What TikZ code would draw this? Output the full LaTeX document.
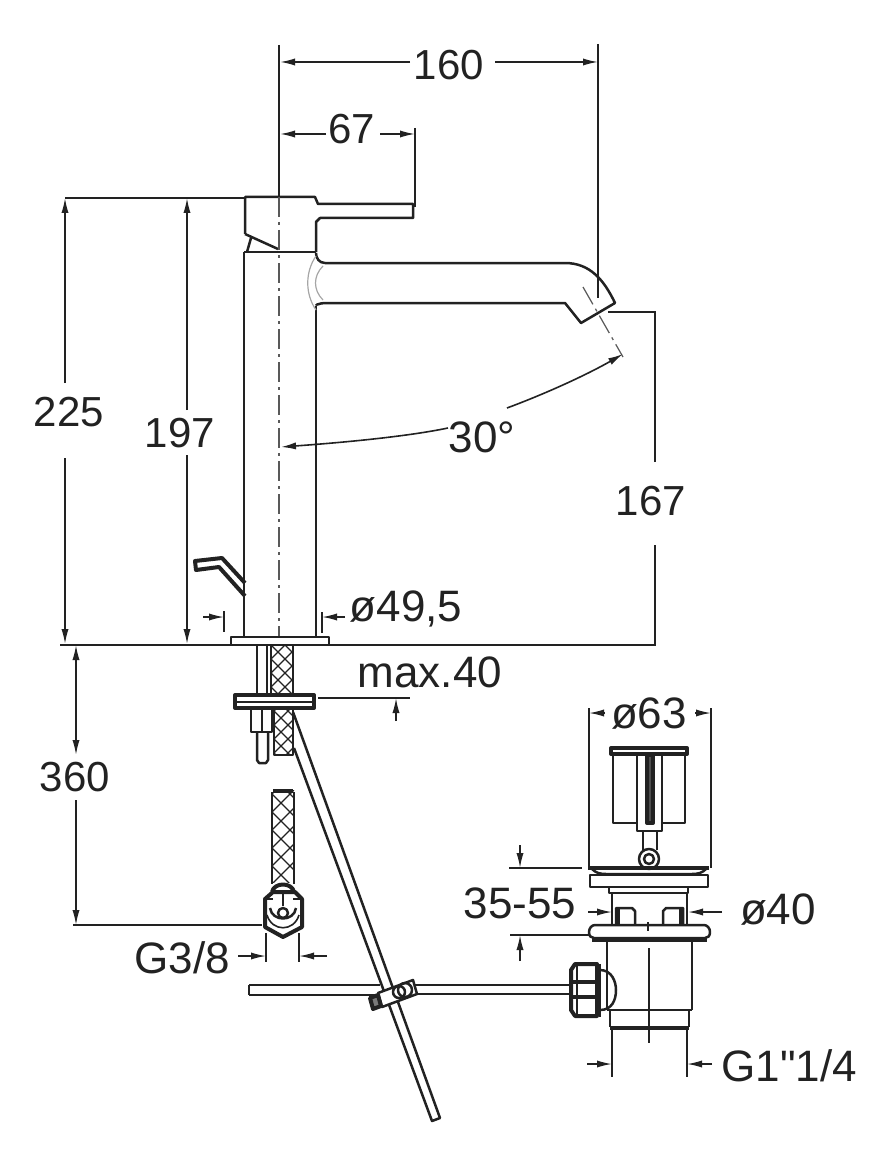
\documentclass[tikz,border=0pt]{standalone}
\usepackage{fontspec}
\setmainfont{Liberation Sans}
\newfontfamily\straightfont{Liberation Sans}
\usetikzlibrary{arrows.meta}
\definecolor{inkc}{HTML}{222222}
\tikzset{
  outline/.style={draw=inkc,line width=1.25pt,line join=round},
  heavy/.style={draw=inkc,line width=2pt,line join=round},
  thinline/.style={draw=inkc,line width=0.8pt},
  dimline/.style={draw=inkc,line width=0.8pt,-{Latex[length=7.5pt,width=3.6pt]}},
  dimboth/.style={draw=inkc,line width=0.8pt,{Latex[length=7.5pt,width=3.6pt]}-{Latex[length=7.5pt,width=3.6pt]}},
  centerline/.style={draw=inkc!75,line width=0.6pt,dash pattern=on 10pt off 2.5pt on 1.5pt off 2.5pt},
  faint/.style={draw=black!35,line width=0.6pt},
  dimtext/.style={font=\fontsize{21}{21}\selectfont,text=inkc,inner sep=0pt},
  widetext/.style={font=\fontsize{22}{22}\selectfont,text=inkc,inner sep=0pt},
  weave/.style={draw=inkc,line width=0.55pt}
}
\begin{document}
\begin{tikzpicture}[x=0.5pt,y=-0.5pt]
\useasboundingbox (0,0) rectangle (891,1166);
% dimensions at the top
\draw[thinline] (279,45) -- (279,197);
\draw[thinline] (598,44) -- (598,298);
\draw[dimline] (410,62) -- (280,62);
\draw[dimline] (495,62) -- (598,62);
\node[dimtext] (top160) at (449,65) {160};
\draw[thinline] (415,128) -- (415,207);
\draw[dimline] (326,134) -- (280,134);
\draw[dimline] (380,134) -- (415,134);
\node[dimtext] (top67) at (352,129) {67};
% handle
\draw[outline] (245,234) -- (245,197) -- (315,197) -- (318,204) -- (413,204) -- (413,218)
  -- (320,218) -- (316,222) -- (316,252);
\draw[outline] (245,234) -- (278,249);
\draw[outline] (251,238) -- (247,252);
\draw[outline] (244,252) -- (316,252);
% body and spout
\draw[outline] (244,252) -- (244,637);
\draw[outline] (316,304) .. controls (316,306) and (319,303) .. (325,303) -- (565,303) -- (581,323)
  -- (615,303) .. controls (604,280) and (590,263) .. (565,263) -- (325,263)
  .. controls (319,263) and (316,258) .. (316,253);
\draw[outline] (316,306) -- (316,637);
\draw[faint] (316,256) .. controls (305,272) and (305,294) .. (316,310);
\draw[faint] (323,266) .. controls (313,276) and (313,290) .. (323,300);
\draw[centerline] (279,197) -- (279,640);
\draw[centerline] (583,287) -- (623,357);
% 30 degrees
\draw[dimline] (448,428) .. controls (410,436) and (350,442) .. (281,447);
\draw[dimline] (507,408) .. controls (550,392) and (590,373) .. (623,354);
\node[widetext] (ang30) at (482,437) {30°};
% levels
\draw[thinline] (65,198) -- (245,198);
\draw[thinline] (60,645) -- (232,645);
\draw[thinline] (328,645) -- (655,645) -- (655,545);
\draw[thinline] (655,462) -- (655,312) -- (608,312);
\node[dimtext] (h167) at (651,501) {167};
\draw[dimline] (65,383) -- (65,198);
\draw[dimline] (65,458) -- (65,644);
\node[dimtext] (h225) at (69,412) {225};
\draw[dimline] (187,410) -- (187,198);
\draw[dimline] (187,455) -- (187,644);
\node[dimtext] (h197) at (180,433) {197};
% lever
\draw[heavy] (245,596) -- (219,567) -- (196,570) -- (195,561) -- (222,558) -- (245,583);
% body diameter
\draw[thinline] (224,611) -- (224,632);
\draw[thinline] (322,612) -- (322,633);
\draw[dimline] (203,617) -- (224,617);
\draw[dimline] (345,617) -- (322,617);
\node[widetext] (d495) at (406,609) {ø49,5};
% base with pipes
\draw[outline,fill=white] (231,637) rectangle (329,645);
\draw[outline] (257,645) -- (257,695);
\draw[outline] (267,645) -- (267,695);
\draw[outline] (271,645) -- (271,695);
\draw[outline] (293,645) -- (293,695);
\begin{scope}
\clip (271,645) rectangle (293,695);
\foreach \k in {0,...,5} {
  \draw[weave] (271,631+\k*14) -- (293,653+\k*14);
  \draw[weave] (271,645+\k*14) -- (293,623+\k*14);
}
\end{scope}
% nut under the deck
\draw[heavy,fill=white] (235,695) rectangle (314,708);
\draw[outline] (235,702) -- (314,702);
\draw[thinline] (318,698) -- (410,698);
\draw[dimline] (396,721) -- (396,698);
\node[widetext] (max40) at (430,672) {max.40};
% stud
\draw[outline] (251,709) -- (251,732) -- (272,732) -- (272,709);
\draw[outline] (257,732) -- (257,760) -- (259,763) -- (266,763) -- (268,760) -- (268,732);
\draw[outline] (262,709) -- (262,732);
% hose, upper part
\draw[outline] (274,709) -- (274,755) -- (293,755) -- (293,709);
\begin{scope}
\clip (274,709) rectangle (293,755);
\foreach \k in {0,...,4} {
  \draw[weave] (274,697+\k*14) -- (293,716+\k*14);
  \draw[weave] (274,711+\k*14) -- (293,692+\k*14);
}
\end{scope}
% long rod
\draw[outline] (294,748) -- (432,1121) -- (440,1118) -- (293,712);
% hose, lower part
\draw[outline] (272,792) -- (272,884);
\draw[outline] (294,792) -- (294,884);
\draw[heavy] (273,791) -- (293,791);
\begin{scope}
\clip (272,790) rectangle (294,882);
\foreach \k in {0,...,5} {
  \draw[weave] (272,776+\k*18) -- (294,798+\k*18);
  \draw[weave] (272,794+\k*18) -- (294,772+\k*18);
}
\end{scope}
% connector nut
\draw[heavy] (273,892) -- (265,899) -- (265,927) -- (283,937) -- (302,927) -- (302,899) -- (295,892) -- cycle;
\draw[heavy] (272,892) .. controls (274,882) and (292,882) .. (294,892);
\draw[outline] (283,890) -- (283,906);
\draw[outline] (283,913) circle (5);
\draw[outline] (270,908) .. controls (272,922) and (294,922) .. (296,908);
\draw[thinline] (267,915) .. controls (272,932) and (294,932) .. (299,915);
\draw[outline] (273,899) -- (265,899);
\draw[outline] (293,899) -- (302,899);
% lengths of the hose
\draw[dimboth] (76,645) -- (76,755);
\draw[dimline] (76,800) -- (76,925);
\node[dimtext] (h360) at (75,777) {360};
\draw[thinline] (73,925) -- (262,925);
\draw[thinline] (266,933) -- (266,962);
\draw[thinline] (299,933) -- (299,962);
\draw[dimline] (238,956) -- (266,956);
\draw[dimline] (327,956) -- (299,956);
\node[widetext] (g38) at (182,958) {G3/8};
% horizontal rod and clamp
\draw[outline] (249,985) -- (380,985);
\draw[outline] (249,995) -- (249,985);
\draw[outline] (249,995) -- (376,995);
\draw[outline] (415,985) -- (571,985);
\draw[outline] (415,994) -- (571,994);
\draw[outline,fill=white] (378,993) -- (413,980) -- (417,994) -- (382,1007) -- cycle;
\draw[heavy,fill=inkc!60] (370,998) -- (378,995) -- (381,1006) -- (373,1009) -- cycle;
\draw[outline] (405,990) circle (7);
\draw[outline] (399,992) circle (6);
% drain nut
\draw[heavy] (575,964) -- (597,964) -- (597,1016) -- (575,1016) -- (571,1010) -- (571,970) -- cycle;
\draw[outline] (577,966) -- (577,1014);
\draw[heavy] (571,982) -- (595,982);
\draw[heavy] (571,997) -- (595,997);
\draw[outline] (600,964) -- (600,1017);
\draw[outline] (600,970) .. controls (612,970) and (616,982) .. (616,990)
  .. controls (616,1000) and (612,1010) .. (600,1010);
% drain body
\draw[outline] (607,941) -- (607,1010);
\draw[outline] (692,941) -- (692,1010);
\draw[outline] (607,1010) -- (692,1010);
\draw[outline] (610,1010) -- (610,1027);
\draw[outline] (689,1010) -- (689,1027);
\draw[heavy] (610,1028) -- (689,1028);
\draw[thinline] (649,948) -- (649,1043);
\draw[thinline] (612,1028) -- (612,1077);
\draw[thinline] (687,1028) -- (687,1077);
\draw[dimline] (587,1064) -- (612,1064);
\draw[dimline] (712,1064) -- (687,1064);
\node[widetext,anchor=west] (g114) at (721,1066) {G1{\straightfont"}1/4};
% drain flange
\draw[outline] (589,932) .. controls (589,928) and (592,925) .. (595,925) -- (704,925)
  .. controls (707,925) and (710,928) .. (710,932) .. controls (710,936) and (708,938) .. (705,938)
  -- (594,938) .. controls (591,938) and (589,936) .. (589,932);
\draw[heavy] (592,940) -- (707,940);
\draw[thinline] (648,922) -- (648,931);
% upper plate
\draw[heavy] (588,868) -- (709,868);
\draw[outline] (592,869) .. controls (596,873) and (600,874) .. (606,874) -- (692,874)
  .. controls (698,874) and (702,873) .. (706,869);
\draw[outline] (590,875) rectangle (708,887);
\draw[outline] (609,887) -- (609,893) -- (688,893) -- (688,887);
\draw[outline] (612,893) -- (612,925);
\draw[outline] (687,893) -- (687,925);
% bolts
\draw[outline] (616,925) -- (616,908) -- (632,908) -- (635,911) -- (635,925);
\draw[outline] (663,925) -- (663,911) -- (666,908) -- (683,908) -- (683,925);
\draw[heavy] (618,909) -- (618,925);
\draw[heavy] (681,909) -- (681,925);
\draw[dimline] (588,912) -- (612,912);
\draw[dimline] (722,912) -- (688,912);
\node[widetext] (d40) at (778,910) {ø40};
\node[widetext] (h3555) at (520,903) {35-55};
\draw[thinline] (509,868) -- (582,868);
\draw[dimline] (520,845) -- (520,868);
\draw[thinline] (510,935) -- (590,935);
\draw[dimline] (520,961) -- (520,935);
% strainer
\draw[heavy] (611,748) -- (687,748) -- (687,754) -- (611,754) -- cycle;
\draw[outline] (613,755) -- (613,823) -- (637,823);
\draw[outline] (685,755) -- (685,823) -- (662,823);
\draw[outline] (637,755) -- (637,831) -- (662,831) -- (662,755);
\draw[heavy,fill=inkc!80] (647,755) rectangle (653,823);
\draw[outline] (643,831) -- (643,850);
\draw[outline] (657,831) -- (657,850);
\draw[outline] (649,859) circle (10);
\draw[outline] (649,859) circle (5);
\draw[thinline] (589,708) -- (589,868);
\draw[thinline] (711,708) -- (711,868);
\draw[dimline] (605,713) -- (589,713);
\draw[dimline] (695,713) -- (711,713);
\node[widetext] (d63) at (649,714) {ø63};
\end{tikzpicture}
\end{document}
